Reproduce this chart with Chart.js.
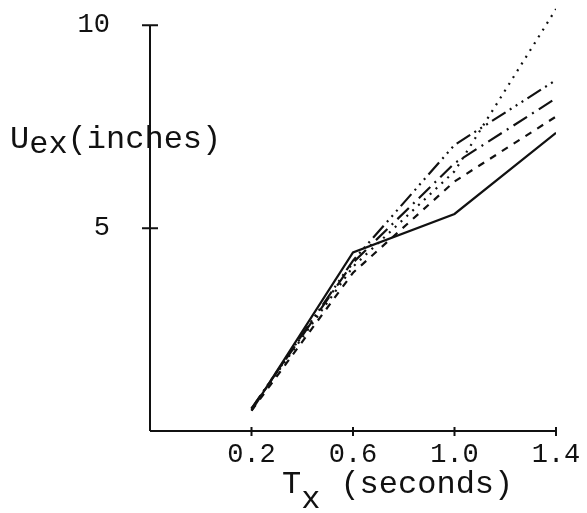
<!DOCTYPE html>
<html>
<head>
<meta charset="utf-8">
<script src="https://cdn.jsdelivr.net/npm/chart.js@4/dist/chart.umd.min.js"></script>
<style>
  html, body { margin: 0; padding: 0; background: #fff; }
  #wrap { width: 587px; height: 513px; }
</style>
</head>
<body>
<div id="wrap"><canvas id="c" width="587" height="513"></canvas></div>
<script>
// periods Tx (seconds)
const periods = [0.2, 0.6, 1.0, 1.4];
// Uex (inches) per curve
const solidVals = [0.5, 4.4, 5.35, 7.35];
const dashDotDotVals = [0.55, 4.2, 7.05, 8.65];
const dashDotVals = [0.55, 4.15, 6.6, 8.2];
const dottedVals = [0.55, 4.05, 6.4, 10.4];
const shortDashVals = [0.5, 3.9, 6.15, 7.75];

const xTicks = [0.2, 0.6, 1.0, 1.4];
const yTicks = [5, 10];

const ink = '#111';
const mono = '"Liberation Mono", "DejaVu Sans Mono", monospace';

function pts(vals) {
  return periods.map((x, i) => ({ x: x, y: vals[i] }));
}

function series(vals, dash) {
  return {
    data: pts(vals),
    borderColor: ink,
    borderWidth: 2.2,
    borderDash: dash,
    pointRadius: 0,
    tension: 0,
    fill: false
  };
}

// axes, tick marks and the two axis titles
const axisDraw = {
  id: 'axisDraw',
  afterDraw(chart) {
    const ctx = chart.ctx;
    const xs = chart.scales.x, ys = chart.scales.y;
    const x0 = xs.getPixelForValue(-0.2);
    const y0 = ys.getPixelForValue(0);
    ctx.save();
    ctx.strokeStyle = ink;
    ctx.lineWidth = 2;
    ctx.beginPath();
    ctx.moveTo(x0, y0);
    ctx.lineTo(x0, ys.getPixelForValue(10));
    ctx.moveTo(x0, y0);
    ctx.lineTo(xs.getPixelForValue(1.4), y0);
    yTicks.forEach(v => {
      const py = ys.getPixelForValue(v);
      ctx.moveTo(x0 - 8, py);
      ctx.lineTo(x0 + 8, py);
    });
    xTicks.forEach(v => {
      const px = xs.getPixelForValue(v);
      ctx.moveTo(px, y0 - 4);
      ctx.lineTo(px, y0 + 5);
    });
    ctx.stroke();

    ctx.fillStyle = ink;
    ctx.textBaseline = 'alphabetic';
    ctx.font = '32px ' + mono;
    // y title
    let x = 10;
    ctx.fillText('U', x, 148);
    x += ctx.measureText('U').width;
    ctx.fillText('ex', x, 153);
    x += ctx.measureText('ex').width;
    ctx.fillText('(inches)', x, 148);
    // x title
    x = 282;
    ctx.fillText('T', x, 493);
    x += ctx.measureText('T').width;
    ctx.fillText('x', x, 508);
    x += ctx.measureText('x').width + 20;
    ctx.fillText('(seconds)', x, 493);
    ctx.restore();
  }
};

new Chart(document.getElementById('c').getContext('2d'), {
  type: 'line',
  data: {
    datasets: [
      series(solidVals, []),
      series(dashDotDotVals, [16, 5, 2, 5, 2, 5, 2, 5]),
      series(dashDotVals, [16, 6, 2, 6]),
      series(dottedVals, [2, 6]),
      series(shortDashVals, [7, 7])
    ]
  },
  options: {
    responsive: false,
    animation: false,
    events: [],
    layout: { padding: { top: 5, right: 31, left: 0, bottom: 0 } },
    plugins: { legend: { display: false }, tooltip: { enabled: false } },
    scales: {
      x: {
        type: 'linear',
        min: -0.2,
        max: 1.4,
        grid: { display: false, drawTicks: false },
        border: { display: false },
        afterFit(s) { s.height = 82; s.paddingLeft = 0; s.paddingRight = 0; },
        afterBuildTicks(s) { s.ticks = xTicks.map(v => ({ value: v })); },
        ticks: {
          color: ink,
          padding: 8,
          maxRotation: 0,
          font: { family: mono, size: 27 },
          callback: v => v.toFixed(1)
        }
      },
      y: {
        type: 'linear',
        min: 0,
        max: 10.5,
        grid: { display: false, drawTicks: false },
        border: { display: false },
        afterFit(s) { s.width = 150; s.paddingTop = 0; s.paddingBottom = 0; },
        afterBuildTicks(s) { s.ticks = yTicks.map(v => ({ value: v })); },
        ticks: {
          color: ink,
          padding: 40,
          font: { family: mono, size: 27 },
          callback: v => String(v)
        }
      }
    }
  },
  plugins: [axisDraw]
});
</script>
</body>
</html>
